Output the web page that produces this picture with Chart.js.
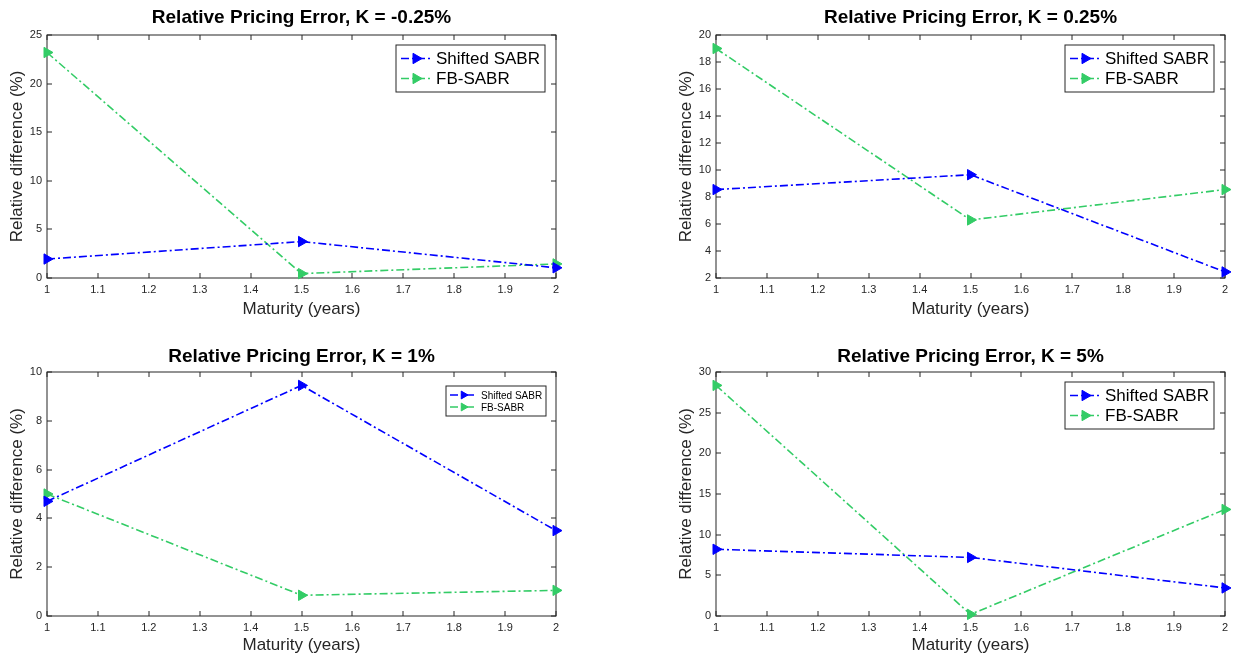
<!DOCTYPE html>
<html>
<head>
<meta charset="utf-8">
<title>Relative Pricing Error</title>
<script src="https://cdn.jsdelivr.net/npm/chart.js@4.4.1/dist/chart.umd.min.js"></script>
<style>
    html, body { margin: 0; padding: 0; background: #fff; }
    body { width: 1238px; height: 659px; position: relative; overflow: hidden; }
    .painel { position: absolute; }
</style>
</head>
<body>
<div class="painel" style="left:0px;top:0px;"><canvas id="graficoKm025" width="603" height="329"></canvas></div>
<div class="painel" style="left:669px;top:0px;"><canvas id="graficoK025" width="603" height="329"></canvas></div>
<div class="painel" style="left:0px;top:329px;"><canvas id="graficoK1" width="603" height="330"></canvas></div>
<div class="painel" style="left:669px;top:329px;"><canvas id="graficoK5" width="603" height="330"></canvas></div>
<script>
// maturities (years) and x ticks
var maturities = [1, 1.5, 2];
var xTicks = [1, 1.1, 1.2, 1.3, 1.4, 1.5, 1.6, 1.7, 1.8, 1.9, 2];
var xTickLabels = ['1', '1.1', '1.2', '1.3', '1.4', '1.5', '1.6', '1.7', '1.8', '1.9', '2'];

// K = -0.25%
var shiftedKm025 = [1.95, 3.75, 1.05];
var fbKm025 = [23.2, 0.45, 1.45];
var yTicksKm025 = [0, 5, 10, 15, 20, 25];

// K = 0.25%
var shiftedK025 = [8.55, 9.65, 2.45];
var fbK025 = [19.0, 6.3, 8.55];
var yTicksK025 = [2, 4, 6, 8, 10, 12, 14, 16, 18, 20];

// K = 1%
var shiftedK1 = [4.7, 9.45, 3.5];
var fbK1 = [5.0, 0.85, 1.05];
var yTicksK1 = [0, 2, 4, 6, 8, 10];

// K = 5%
var shiftedK5 = [8.2, 7.2, 3.45];
var fbK5 = [28.35, 0.2, 13.1];
var yTicksK5 = [0, 5, 10, 15, 20, 25, 30];

var azul = 'rgb(0, 0, 255)';
var verde = 'rgb(51, 204, 102)';
var cinza = '#262626';

Chart.defaults.font.family = '"Liberation Sans", Arial, Helvetica, sans-serif';
Chart.defaults.color = cinza;

// axes box with inward ticks on all four sides
var caixaEixos = {
    id: 'caixaEixos',
    beforeDatasetsDraw: function (chart) {
        var ctx = chart.ctx;
        var a = chart.chartArea;
        var sx = chart.scales.x;
        var sy = chart.scales.y;
        var l = Math.round(a.left), r = Math.round(a.right), t = Math.round(a.top), b = Math.round(a.bottom);
        ctx.save();
        ctx.strokeStyle = cinza;
        ctx.lineWidth = 1;
        ctx.strokeRect(l, t, r - l, b - t);
        ctx.beginPath();
        sx.ticks.forEach(function (tk) {
            var px = Math.round(sx.getPixelForValue(tk.value));
            ctx.moveTo(px, b); ctx.lineTo(px, b - 5);
            ctx.moveTo(px, t); ctx.lineTo(px, t + 5);
        });
        sy.ticks.forEach(function (tk) {
            var py = Math.round(sy.getPixelForValue(tk.value));
            ctx.moveTo(l, py); ctx.lineTo(l + 5, py);
            ctx.moveTo(r, py); ctx.lineTo(r - 5, py);
        });
        ctx.stroke();
        ctx.restore();
    }
};

function desenharTriangulo(ctx, x, y, raio) {
    if (Chart.helpers && Chart.helpers.drawPoint) {
        Chart.helpers.drawPoint(ctx, { pointStyle: 'triangle', rotation: 90, radius: raio, borderWidth: 1 }, x, y);
        return;
    }
    ctx.beginPath();
    ctx.moveTo(x + raio, y);
    ctx.lineTo(x - raio / 2, y - raio * 0.866);
    ctx.lineTo(x - raio / 2, y + raio * 0.866);
    ctx.closePath();
    ctx.fill();
    ctx.stroke();
}

// MATLAB-like legend box in the upper right corner
var legendaCaixa = {
    id: 'legendaCaixa',
    afterDraw: function (chart, args, op) {
        var ctx = chart.ctx;
        var a = chart.chartArea;
        var ds = chart.data.datasets;
        ctx.save();
        ctx.font = op.fontSize + 'px "Liberation Sans", Arial, sans-serif';
        var larguraTexto = 0;
        ds.forEach(function (d) {
            larguraTexto = Math.max(larguraTexto, ctx.measureText(d.label).width);
        });
        var w = op.pad + op.lineLength + op.gap + larguraTexto + op.pad;
        var h = op.padY * 2 + ds.length * op.rowHeight;
        var direita = Math.round(a.right - op.offsetRight);
        var esquerda = Math.round(direita - w);
        var topo = Math.round(a.top + op.offsetTop);
        ctx.fillStyle = '#fff';
        ctx.fillRect(esquerda, topo, direita - esquerda, h);
        ctx.strokeStyle = cinza;
        ctx.lineWidth = 1;
        ctx.strokeRect(esquerda, topo, direita - esquerda, Math.round(h));
        ds.forEach(function (d, i) {
            var cy = topo + op.padY + op.rowHeight * (i + 0.5);
            var x0 = esquerda + op.pad;
            ctx.setLineDash(d.borderDash);
            ctx.strokeStyle = d.borderColor;
            ctx.lineWidth = d.borderWidth;
            ctx.beginPath();
            ctx.moveTo(x0, cy);
            ctx.lineTo(x0 + op.lineLength, cy);
            ctx.stroke();
            ctx.setLineDash([]);
            ctx.fillStyle = d.borderColor;
            ctx.strokeStyle = d.borderColor;
            ctx.lineWidth = 1;
            desenharTriangulo(ctx, x0 + op.lineLength / 2, cy, op.markerRadius);
            ctx.fillStyle = '#000';
            ctx.textAlign = 'left';
            ctx.textBaseline = 'middle';
            ctx.fillText(d.label, x0 + op.lineLength + op.gap, cy + 1);
        });
        ctx.restore();
    }
};

var legendaGrande = { fontSize: 17, pad: 5, lineLength: 30, gap: 5, rowHeight: 20, padY: 3.5, offsetTop: 10, offsetRight: 11, markerRadius: 6 };
var legendaPequena = { fontSize: 10, pad: 4, lineLength: 27, gap: 4, rowHeight: 12, padY: 3, offsetTop: 14, offsetRight: 10, markerRadius: 4.5 };

function serie(nome, valores, cor) {
    return {
        label: nome,
        data: maturities.map(function (m, i) { return { x: m, y: valores[i] }; }),
        borderColor: cor,
        backgroundColor: cor,
        borderWidth: 1.6,
        borderDash: [8, 3, 2, 3],
        pointStyle: 'triangle',
        pointRotation: 90,
        pointRadius: 6,
        pointHoverRadius: 6,
        pointBorderWidth: 1,
        tension: 0,
        clip: false
    };
}

function CriarGrafico(id, titulo, shifted, fb, yTicks, linhaDeBaixo, legenda) {
    var ctx = document.getElementById(id).getContext('2d');
    return new Chart(ctx, {
        type: 'line',
        data: {
            datasets: [serie('Shifted SABR', shifted, azul), serie('FB-SABR', fb, verde)]
        },
        options: {
            responsive: false,
            animation: false,
            events: [],
            layout: { padding: 0 },
            scales: {
                x: {
                    type: 'linear',
                    min: xTicks[0],
                    max: xTicks[xTicks.length - 1],
                    afterBuildTicks: function (s) { s.ticks = xTicks.map(function (v) { return { value: v }; }); },
                    afterFit: function (s) { s.height = linhaDeBaixo ? 43 : 51; },
                    grid: { display: false, drawTicks: false },
                    border: { display: false },
                    ticks: {
                        autoSkip: false,
                        maxRotation: 0,
                        padding: 5,
                        color: cinza,
                        font: { size: 11 },
                        callback: function (v, i) { return xTickLabels[i]; }
                    },
                    title: {
                        display: true,
                        text: 'Maturity (years)',
                        color: cinza,
                        font: { size: 17 },
                        padding: { top: 0, bottom: linhaDeBaixo ? 3.8 : 9.8 }
                    }
                },
                y: {
                    type: 'linear',
                    min: yTicks[0],
                    max: yTicks[yTicks.length - 1],
                    afterBuildTicks: function (s) { s.ticks = yTicks.map(function (v) { return { value: v }; }); },
                    afterFit: function (s) { s.width = 47; },
                    grid: { display: false, drawTicks: false },
                    border: { display: false },
                    ticks: { padding: 5, color: cinza, font: { size: 11 } },
                    title: {
                        display: true,
                        text: 'Relative difference (%)',
                        color: cinza,
                        font: { size: 17 },
                        padding: { top: 6.8, bottom: 0 }
                    }
                },
                y2: {
                    type: 'linear',
                    position: 'right',
                    min: yTicks[0],
                    max: yTicks[yTicks.length - 1],
                    afterFit: function (s) { s.width = 47; },
                    grid: { display: false, drawTicks: false },
                    border: { display: false },
                    ticks: { display: false }
                }
            },
            plugins: {
                legend: { display: false },
                tooltip: { enabled: false },
                title: {
                    display: true,
                    text: titulo,
                    color: '#000',
                    font: { size: 19, weight: 'bold' },
                    padding: linhaDeBaixo ? { top: 16.6, bottom: 3.6 } : { top: 6.6, bottom: 5.6 }
                },
                legendaCaixa: legenda
            }
        },
        plugins: [caixaEixos, legendaCaixa]
    });
}

CriarGrafico('graficoKm025', 'Relative Pricing Error, K = -0.25%', shiftedKm025, fbKm025, yTicksKm025, false, legendaGrande);
CriarGrafico('graficoK025', 'Relative Pricing Error, K = 0.25%', shiftedK025, fbK025, yTicksK025, false, legendaGrande);
CriarGrafico('graficoK1', 'Relative Pricing Error, K = 1%', shiftedK1, fbK1, yTicksK1, true, legendaPequena);
CriarGrafico('graficoK5', 'Relative Pricing Error, K = 5%', shiftedK5, fbK5, yTicksK5, true, legendaGrande);
</script>
</body>
</html>
